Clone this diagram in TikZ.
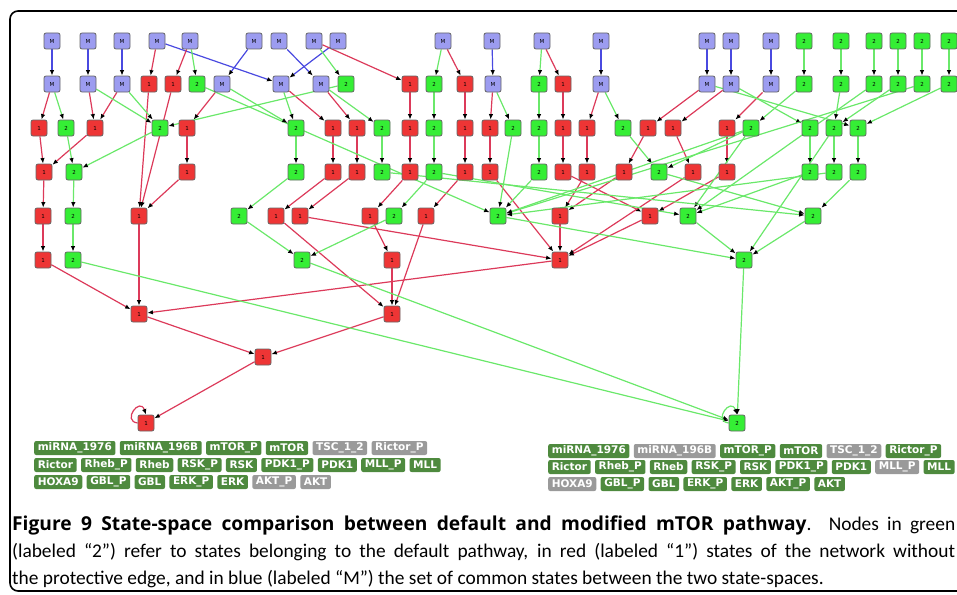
\documentclass[tikz,border=0pt]{standalone}
\usepackage{fontspec}
\setsansfont{DejaVu Sans}
\newfontfamily\capfont{Carlito}
\newfontfamily\capbold{Open Sans}[BoldFont={* Bold}]
\usetikzlibrary{arrows.meta,positioning,backgrounds}

\definecolor{mfill}{HTML}{9C9CF0}
\definecolor{rfill}{HTML}{EE3535}
\definecolor{gfill}{HTML}{35EE35}
\definecolor{redline}{HTML}{DC3A5A}
\definecolor{greenline}{HTML}{6AE86A}
\definecolor{blueline}{HTML}{4A4AE0}
\definecolor{varon}{HTML}{4E8A3E}
\definecolor{varoff}{HTML}{9A9A9A}

\tikzset{
  state/.style={draw=black!60, line width=0.8pt, rounded corners=2pt,
    minimum size=16pt, inner sep=0pt, font=\fontsize{5.5}{5.5}\selectfont\sffamily},
  state M/.style={state, fill=mfill},
  state 1/.style={state, fill=rfill},
  state 2/.style={state, fill=gfill},
  trans/.style={line width=1.2pt, -{Latex[black,length=5.5pt,width=4.5pt]}},
  red edge/.style={trans, draw=redline},
  green edge/.style={trans, draw=greenline},
  blue edge/.style={trans, draw=blueline},
  legbox/.style={rounded corners=2pt, minimum height=14pt, inner xsep=3.6pt,
    inner ysep=0pt, text=white, font=\fontsize{10.5}{10.5}\selectfont\sffamily\bfseries},
  var on/.style={legbox, fill=varon},
  var off/.style={legbox, fill=varoff},
  capline/.style={anchor=west, inner sep=0pt, font=\capfont\fontsize{19.4}{23}\selectfont},
}

\begin{document}
\begin{tikzpicture}[x=1pt,y=-1pt]
%%%%% START %%%%%
\useasboundingbox (0,0) rectangle (957,594);
\draw[line width=1.6pt, rounded corners=8pt] (990,11) -- (10,11) -- (10,591) -- (990,591);

% states, row by row
\foreach \n/\x/\l in {a1/52/M,a2/88/M,a3/122/M,a4/157/M,a5/190/M,a6/254/M,a7/279/M,
  a8/314/M,a9/338/M,a10/443/M,a11/492/M,a12/542/M,a13/601/M,a14/707/M,a15/731/M,
  a16/771/M,a17/804/2,a18/841/2,a19/874/2,a20/898/2,a21/922/2,a22/949/2}
  \node[state \l] (\n) at (\x,41) {\l};
\foreach \n/\x/\l in {b1/52/M,b2/88/M,b3/122/M,b4/149/1,b5/173/1,b6/197/2,b7/222/M,
  b8/281/M,b9/321/M,b10/346/2,b11/410/1,b12/434/2,b13/465/1,b14/493/M,b15/539/2,
  b16/563/1,b17/601/M,b18/707/M,b19/731/M,b20/771/M,b21/804/2,b22/841/2,b23/874/2,
  b24/898/2,b25/922/2,b26/949/2}
  \node[state \l] (\n) at (\x,84) {\l};
\foreach \n/\x/\l in {c1/39/1,c2/66/2,c3/95/1,c4/160/2,c5/187/1,c6/296/2,c7/333/1,
  c8/357/1,c9/382/2,c10/410/1,c11/434/2,c12/465/1,c13/490/1,c14/513/2,c15/539/2,
  c16/563/1,c17/587/1,c18/623/2,c19/648/1,c20/673/1,c21/727/1,c22/751/2,c23/810/2,
  c24/834/2,c25/858/2}
  \node[state \l] (\n) at (\x,128) {\l};
\foreach \n/\x/\l in {d1/44/1,d2/74/2,d3/187/1,d4/296/2,d5/333/1,d6/357/1,d7/382/2,
  d8/410/1,d9/434/2,d10/465/1,d11/490/1,d12/539/2,d13/563/1,d14/587/1,d15/624/1,
  d16/659/2,d17/693/1,d18/727/1,d19/810/2,d20/834/2,d21/858/2}
  \node[state \l] (\n) at (\x,172) {\l};
\foreach \n/\x/\l in {e1/43/1,e2/73/2,e3/139/1,e4/239/2,e5/276/1,e6/300/1,e7/370/1,
  e8/394/2,e9/426/1,e10/498/2,e11/560/1,e12/650/1,e13/688/2,e14/813/2}
  \node[state \l] (\n) at (\x,216) {\l};
\foreach \n/\x/\l in {f1/43/1,f2/73/2,f3/302/2,f4/392/1,f5/560/1,f6/744/2}
  \node[state \l] (\n) at (\x,260) {\l};
\node[state 1] (g1) at (139,314) {1};
\node[state 1] (g2) at (392,314) {1};
\node[state 1] (h1) at (263,357) {1};
\node[state 1] (i1) at (146,423) {1};
\node[state 2] (i2) at (737,423) {2};

% transitions
\begin{pgfonlayer}{background}
\foreach \s/\t in {a1/b1,a2/b2,a3/b3,a4/b8,a6/b7,a7/b9,a9/b8,a11/b14,a13/b17,
  a14/b18,a15/b19,a16/b20}
  \draw[blue edge] (\s) -- (\t);
\foreach \s/\t in {a4/b4,a5/b5,a8/b11,a10/b13,a12/b16,
  b1/c1,b2/c3,b3/c3,b4/e3,b5/e3,b7/c5,b8/c7,b9/c8,b11/c10,b13/c12,b14/c13,b16/c16,
  b17/c17,b18/c19,b19/c20,b20/c21,
  c1/d1,c3/d1,c5/d3,c7/d5,c8/d6,c10/d8,c12/d10,c13/d11,c16/d13,c17/d14,c19/d15,
  c20/d17,c21/d18,
  d1/e1,d3/e3,d5/e5,d6/e6,d8/e7,d10/e9,d11/f5,d13/e12,d14/e11,d15/e11,d17/f5,d18/e12,
  e1/f1,e3/g1,e5/g2,e6/f5,e7/f4,e9/g2,e11/f5,e12/f5,
  f1/g1,f4/g2,f5/g1,g1/h1,g2/h1,h1/i1}
  \draw[red edge] (\s) -- (\t);
\foreach \s/\t in {a5/b6,a8/b10,a10/b12,a12/b15,a17/b21,a18/b22,a19/b23,a20/b24,
  a21/b25,a22/b26,
  b1/c2,b2/c4,b3/c4,b6/e10,b7/c6,b8/c6,b9/c9,b10/c4,b12/c11,b14/c14,b15/c15,b17/c18,
  b18/c25,b19/c23,b21/c22,b22/c24,b23/e13,b24/c24,b25/e10,b26/c25,
  c2/d2,c4/d2,c6/d4,c9/d7,c11/d9,c14/e10,c15/d12,c18/d16,c22/e13,c22/d16,c22/e10,
  c23/d19,c24/d20,c24/f6,c25/d21,
  d2/e2,d4/e4,d7/e14,d9/e8,d9/e13,d12/e10,d16/e14,d19/e13,d20/e10,d21/e14,
  e2/f2,e4/f3,e8/f3,e10/f6,e13/f6,e14/f6,
  f2/i2,f3/i2,f6/i2}
  \draw[green edge] (\s) -- (\t);
\draw[red edge] (i1.west) .. controls +(-16,-2) and +(-6,-18) .. (i1.north);
\draw[green edge] (i2.west) .. controls +(-16,-2) and +(-6,-18) .. (i2.north);
\end{pgfonlayer}

% variables of the left state
\node[var on, anchor=west] (l1) at (34,448) {miRNA\_1976};
\node[var on, right=4pt of l1] (l2) {miRNA\_196B};
\node[var on, right=4pt of l2] (l3) {mTOR\_P};
\node[var on, right=4pt of l3] (l4) {mTOR};
\node[var off, right=4pt of l4] (l5) {TSC\_1\_2};
\node[var off, right=4pt of l5] (l6) {Rictor\_P};
\node[var on, anchor=west] (l7) at (34,465) {Rictor};
\node[var on, right=4pt of l7] (l8) {Rheb\_P};
\node[var on, right=4pt of l8] (l9) {Rheb};
\node[var on, right=4pt of l9] (l10) {RSK\_P};
\node[var on, right=4pt of l10] (l11) {RSK};
\node[var on, right=4pt of l11] (l12) {PDK1\_P};
\node[var on, right=4pt of l12] (l13) {PDK1};
\node[var on, right=4pt of l13] (l14) {MLL\_P};
\node[var on, right=4pt of l14] (l15) {MLL};
\node[var on, anchor=west] (l16) at (34,482) {HOXA9};
\node[var on, right=4pt of l16] (l17) {GBL\_P};
\node[var on, right=4pt of l17] (l18) {GBL};
\node[var on, right=4pt of l18] (l19) {ERK\_P};
\node[var on, right=4pt of l19] (l20) {ERK};
\node[var off, right=4pt of l20] (l21) {AKT\_P};
\node[var off, right=4pt of l21] (l22) {AKT};

% variables of the right state
\node[var on, anchor=west] (r1) at (548,451) {miRNA\_1976};
\node[var off, right=4pt of r1] (r2) {miRNA\_196B};
\node[var on, right=4pt of r2] (r3) {mTOR\_P};
\node[var on, right=4pt of r3] (r4) {mTOR};
\node[var off, right=4pt of r4] (r5) {TSC\_1\_2};
\node[var on, right=4pt of r5] (r6) {Rictor\_P};
\node[var on, anchor=west] (r7) at (548,467) {Rictor};
\node[var on, right=4pt of r7] (r8) {Rheb\_P};
\node[var on, right=4pt of r8] (r9) {Rheb};
\node[var on, right=4pt of r9] (r10) {RSK\_P};
\node[var on, right=4pt of r10] (r11) {RSK};
\node[var on, right=4pt of r11] (r12) {PDK1\_P};
\node[var on, right=4pt of r12] (r13) {PDK1};
\node[var off, right=4pt of r13] (r14) {MLL\_P};
\node[var on, right=4pt of r14] (r15) {MLL};
\node[var off, anchor=west] (r16) at (548,484) {HOXA9};
\node[var on, right=4pt of r16] (r17) {GBL\_P};
\node[var on, right=4pt of r17] (r18) {GBL};
\node[var on, right=4pt of r18] (r19) {ERK\_P};
\node[var on, right=4pt of r19] (r20) {ERK};
\node[var on, right=4pt of r20] (r21) {AKT\_P};
\node[var on, right=4pt of r21] (r22) {AKT};

% caption
\node[capline] (cap1) at (12,525) {\makebox[943pt][s]{{\capbold\bfseries\fontsize{19.2}{22}\selectfont Figure 9 State-space comparison between default and modified mTOR pathway}. Nodes in green}};
\node[capline] (cap2) at (12,552) {\makebox[943pt][s]{(labeled “2”) refer to states belonging to the default pathway, in red (labeled “1”) states of the network without}};
\node[capline] (cap3) at (12,579) {the protective edge, and in blue (labeled “M”) the set of common states between the two state-spaces.};
%%%%% END %%%%%
\end{tikzpicture}
\end{document}
